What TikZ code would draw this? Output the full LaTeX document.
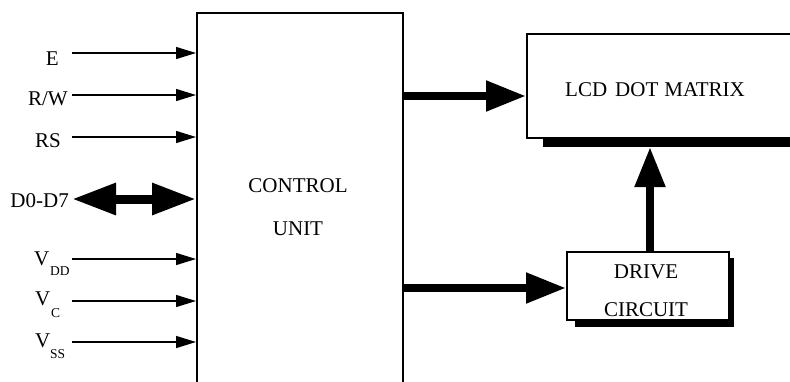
\documentclass[tikz,border=0pt]{standalone}
\usepackage{fontspec}
\setmainfont{Liberation Serif}
\usetikzlibrary{arrows.meta}
\begin{document}
\begin{tikzpicture}[x=1pt,y=-1pt,
  lbl/.style={inner sep=0pt,font=\fontsize{21}{24}\selectfont},
  sub/.style={inner sep=0pt,font=\fontsize{13.5}{15}\selectfont},
  box/.style={draw,line width=1.6pt,inner sep=0pt},
  sarrow/.style={line width=1.4pt,-{Triangle[length=20pt,width=12pt]}},
  barrow/.style={line width=8pt,-{Triangle[length=40pt,width=29pt]}},
  darrow/.style={line width=9pt,{Triangle[length=44pt,width=30pt]}-{Triangle[length=44pt,width=30pt]}},
  shadow/.style={fill=black,draw=none}]
\useasboundingbox (0,0) rectangle (790,381);
\clip (0,0) rectangle (790,381);
% blocks
\node[box,anchor=north west,minimum width=206pt,minimum height=400pt] (cu) at (196,12) {};
\node[lbl,anchor=base] (cut1) at (298,192) {CONTROL};
\node[lbl,anchor=base] (cut2) at (298,235) {UNIT};
\fill[shadow] (543,137) rectangle (800,147);
\node[box,fill=white,anchor=north west,minimum width=290pt,minimum height=104pt] (lcd) at (526,33) {};
\node[lbl,anchor=base west] (lcdt) at (565,96) {LCD\hspace{8pt}DOT\hspace{6pt}MATRIX};
\fill[shadow] (728,258) rectangle (734,327);
\fill[shadow] (575,319) rectangle (734,327);
\node[box,fill=white,anchor=north west,minimum width=162pt,minimum height=68pt] (drv) at (566,251) {};
\node[lbl,anchor=base] (drt1) at (646,278) {DRIVE};
\node[lbl,anchor=base] (drt2) at (646,316) {CIRCUIT};
\coordinate (lcdsh) at (650,147);
% input labels
\node[lbl,anchor=base east] (lE) at (59,65) {E};
\node[lbl,anchor=base east] (lRW) at (68,105) {R/W};
\node[lbl,anchor=base east] (lRS) at (61,147) {RS};
\node[lbl,anchor=base east] (lD) at (69,207) {D0-D7};
\node[lbl,anchor=base west] (lV1) at (34,265) {V};
\node[sub,anchor=base west] (lV1s) at (50,275) {DD};
\node[lbl,anchor=base west] (lV2) at (35,305) {V};
\node[sub,anchor=base west] (lV2s) at (51,317) {C};
\node[lbl,anchor=base west] (lV3) at (35,347) {V};
\node[sub,anchor=base west] (lV3s) at (50,358) {SS};
% input start points
\coordinate (iE) at (72,53);
\coordinate (iRW) at (72,95);
\coordinate (iRS) at (72,137);
\coordinate (iD) at (72,199);
\coordinate (iV1) at (72,259);
\coordinate (iV2) at (72,301);
\coordinate (iV3) at (72,342);
\foreach \c in {iE,iRW,iRS,iV1,iV2,iV3}
  \draw[sarrow] (\c) -- (\c -| cu.west);
\draw[darrow] (iD) -- (iD -| cu.west);
% outputs
\coordinate (o1) at (402,96);
\coordinate (o2) at (402,288);
\draw[barrow] (o1) -- (o1 -| lcd.west);
\draw[barrow] (o2) -- (o2 -| drv.west);
\draw[barrow] (drv.north -| lcdsh) -- (lcdsh);
\end{tikzpicture}
\end{document}
